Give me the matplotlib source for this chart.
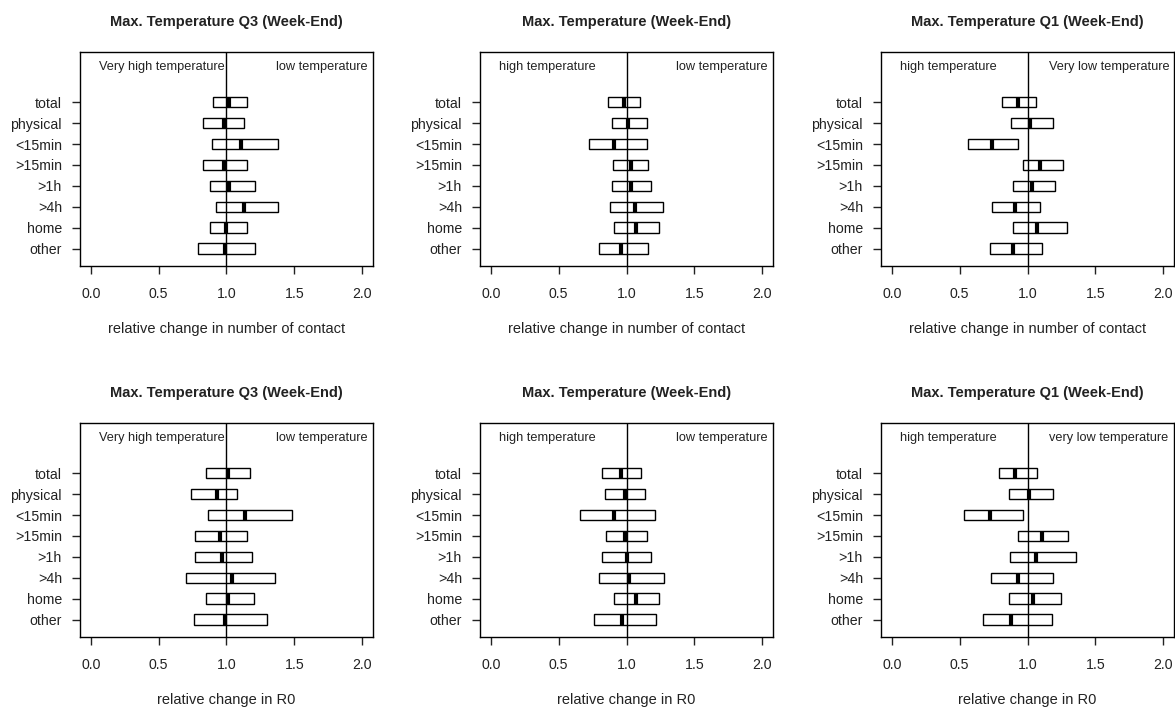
#!/usr/bin/env python3

import matplotlib
matplotlib.use('Agg')
import matplotlib.pyplot as plt

plt.rcParams['font.family'] = ['Liberation Sans', 'DejaVu Sans']

categories = ['total', 'physical', '<15min', '>15min', '>1h', '>4h', 'home', 'other']

# top row: relative change in number of contact
contact_q3_lo = [0.90, 0.83, 0.89, 0.83, 0.88, 0.92, 0.88, 0.79]
contact_q3_med = [1.02, 0.98, 1.11, 0.98, 1.02, 1.13, 1.00, 0.99]
contact_q3_hi = [1.15, 1.13, 1.38, 1.15, 1.21, 1.38, 1.15, 1.21]

contact_mid_lo = [0.86, 0.89, 0.72, 0.90, 0.89, 0.88, 0.91, 0.80]
contact_mid_med = [0.98, 1.01, 0.91, 1.03, 1.03, 1.06, 1.07, 0.96]
contact_mid_hi = [1.10, 1.15, 1.15, 1.16, 1.18, 1.27, 1.24, 1.16]

contact_q1_lo = [0.81, 0.88, 0.56, 0.97, 0.89, 0.74, 0.89, 0.72]
contact_q1_med = [0.93, 1.02, 0.74, 1.09, 1.03, 0.91, 1.07, 0.89]
contact_q1_hi = [1.06, 1.19, 0.93, 1.26, 1.20, 1.09, 1.29, 1.11]

# bottom row: relative change in R0
r0_q3_lo = [0.85, 0.74, 0.86, 0.77, 0.77, 0.70, 0.85, 0.76]
r0_q3_med = [1.01, 0.93, 1.14, 0.95, 0.97, 1.04, 1.01, 0.99]
r0_q3_hi = [1.17, 1.08, 1.48, 1.15, 1.19, 1.36, 1.20, 1.30]

r0_mid_lo = [0.82, 0.84, 0.66, 0.85, 0.82, 0.80, 0.91, 0.76]
r0_mid_med = [0.96, 0.99, 0.91, 0.99, 1.00, 1.02, 1.07, 0.97]
r0_mid_hi = [1.11, 1.14, 1.21, 1.15, 1.18, 1.28, 1.24, 1.22]

r0_q1_lo = [0.79, 0.86, 0.53, 0.93, 0.87, 0.73, 0.86, 0.67]
r0_q1_med = [0.91, 1.01, 0.72, 1.11, 1.06, 0.93, 1.04, 0.88]
r0_q1_hi = [1.07, 1.19, 0.97, 1.30, 1.36, 1.19, 1.25, 1.18]

titles = ['Max. Temperature Q3 (Week-End)', 'Max. Temperature (Week-End)',
          'Max. Temperature Q1 (Week-End)']
left_notes = ['Very high temperature', 'high temperature', 'high temperature']
right_notes_top = ['low temperature', 'low temperature', 'Very low temperature']
right_notes_bottom = ['low temperature', 'low temperature', 'very low temperature']
xlabels = ['relative change in number of contact', 'relative change in R0']

panels = [
    [(contact_q3_lo, contact_q3_med, contact_q3_hi),
     (contact_mid_lo, contact_mid_med, contact_mid_hi),
     (contact_q1_lo, contact_q1_med, contact_q1_hi)],
    [(r0_q3_lo, r0_q3_med, r0_q3_hi),
     (r0_mid_lo, r0_mid_med, r0_mid_hi),
     (r0_q1_lo, r0_q1_med, r0_q1_hi)],
]

W, H = 1175, 708
fig = plt.figure(figsize=(W / 100, H / 100), dpi=100)

col_left = [80, 480, 881]
row_top = [52, 423]
box_w, box_h = 293, 214
left_note_x = [0.525, 0.42, 0.42]
right_note_x = [1.70, 1.70, 1.60]

n = len(categories)
ypos = list(range(n, 0, -1))

for r in range(2):
    for c in range(3):
        lo, med, hi = panels[r][c]
        ax = fig.add_axes([col_left[c] / W, (H - row_top[r] - box_h) / H,
                           box_w / W, box_h / H])
        widths = [h - l for l, h in zip(lo, hi)]
        ax.barh(ypos, widths, left=lo, height=0.5, fill=False,
                edgecolor='black', linewidth=1.0, zorder=3)
        ax.vlines(med, [y - 0.25 for y in ypos], [y + 0.25 for y in ypos],
                  color='black', linewidth=3.0, zorder=4)
        ax.axvline(1.0, color='black', linewidth=1.0, zorder=2)

        ax.set_xlim(-0.08, 2.08)
        ax.set_ylim(0.17, 10.4)
        ax.set_xticks([0.0, 0.5, 1.0, 1.5, 2.0])
        ax.set_xticklabels(['0.0', '0.5', '1.0', '1.5', '2.0'])
        ax.set_yticks(ypos)
        ax.set_yticklabels(categories)
        ax.tick_params(axis='both', direction='out', length=6, width=1,
                       labelsize=10.2, colors='#222222')
        ax.tick_params(axis='x', pad=9)
        ax.tick_params(axis='y', pad=7)
        for sp in ax.spines.values():
            sp.set_linewidth(1.0)

        ax.set_title(titles[c], fontsize=10.5, fontweight='bold', pad=19,
                     color='#222222')
        ax.set_xlabel(xlabels[r], fontsize=10.5, labelpad=15, color='#222222')

        rn = right_notes_top[c] if r == 0 else right_notes_bottom[c]
        ax.text(left_note_x[c], 9.7, left_notes[c], ha='center', va='center',
                fontsize=9.2, color='#222222')
        ax.text(right_note_x[c], 9.7, rn, ha='center', va='center',
                fontsize=9.2, color='#222222')

fig.savefig('out.png', dpi=100)
